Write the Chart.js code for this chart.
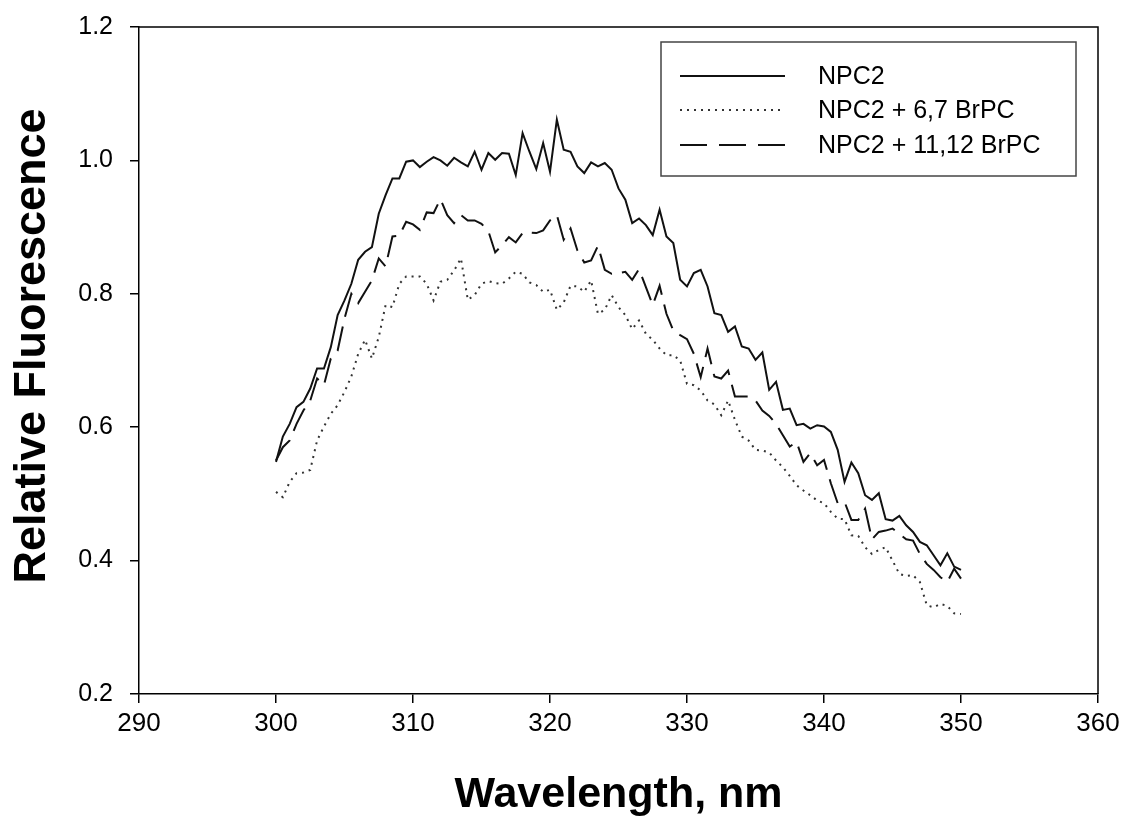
<!DOCTYPE html>
<html>
<head>
<meta charset="utf-8">
<script src="https://cdn.jsdelivr.net/npm/chart.js@4.4.1/dist/chart.umd.min.js"></script>
<style>
  html, body { margin: 0; padding: 0; background: #fff; }
  #wrap { width: 1122px; height: 823px; position: relative; }
</style>
</head>
<body>
<div id="wrap"><canvas id="c" width="1122" height="823"></canvas></div>
<script>
// Wavelength (nm)
const wavelengths = [
  300.0,300.5,301.0,301.5,302.0,302.5,303.0,303.5,304.0,304.5,
  305.0,305.5,306.0,306.5,307.0,307.5,308.0,308.5,309.0,309.5,
  310.0,310.5,311.0,311.5,312.0,312.5,313.0,313.5,314.0,314.5,
  315.0,315.5,316.0,316.5,317.0,317.5,318.0,318.5,319.0,319.5,
  320.0,320.5,321.0,321.5,322.0,322.5,323.0,323.5,324.0,324.5,
  325.0,325.5,326.0,326.5,327.0,327.5,328.0,328.5,329.0,329.5,
  330.0,330.5,331.0,331.5,332.0,332.5,333.0,333.5,334.0,334.5,
  335.0,335.5,336.0,336.5,337.0,337.5,338.0,338.5,339.0,339.5,
  340.0,340.5,341.0,341.5,342.0,342.5,343.0,343.5,344.0,344.5,
  345.0,345.5,346.0,346.5,347.0,347.5,348.0,348.5,349.0,349.5,
  350.0
];

// NPC2 (solid)
const npc2 = [
  0.548,0.586,0.605,0.630,0.638,0.658,0.688,0.688,0.720,0.768,
  0.790,0.815,0.851,0.863,0.870,0.920,0.948,0.973,0.973,0.998,
  1.000,0.990,0.998,1.005,1.000,0.992,1.004,0.997,0.991,1.013,
  0.986,1.011,1.001,1.011,1.010,0.978,1.041,1.013,0.987,1.026,
  0.983,1.061,1.016,1.013,0.991,0.981,0.997,0.991,0.996,0.986,
  0.958,0.941,0.906,0.913,0.903,0.888,0.926,0.886,0.876,0.821,
  0.811,0.831,0.836,0.811,0.771,0.768,0.743,0.751,0.721,0.718,
  0.701,0.712,0.656,0.668,0.626,0.628,0.603,0.605,0.598,0.603,
  0.601,0.593,0.566,0.518,0.547,0.531,0.498,0.491,0.501,0.462,
  0.460,0.467,0.453,0.443,0.428,0.423,0.408,0.393,0.411,0.391,
  0.386
];

// NPC2 + 6,7 BrPC (dotted)
const npc2Br67 = [
  0.503,0.495,0.518,0.531,0.532,0.536,0.580,0.601,0.620,0.633,
  0.653,0.676,0.710,0.731,0.703,0.735,0.783,0.780,0.815,0.826,
  0.826,0.826,0.815,0.790,0.818,0.821,0.835,0.853,0.791,0.798,
  0.815,0.819,0.816,0.815,0.823,0.833,0.830,0.817,0.813,0.803,
  0.806,0.776,0.787,0.812,0.811,0.803,0.820,0.770,0.776,0.798,
  0.780,0.768,0.747,0.760,0.740,0.731,0.718,0.708,0.708,0.700,
  0.665,0.663,0.655,0.640,0.634,0.618,0.640,0.611,0.586,0.580,
  0.566,0.565,0.562,0.550,0.540,0.527,0.513,0.505,0.498,0.490,
  0.486,0.473,0.463,0.462,0.438,0.437,0.420,0.410,0.416,0.420,
  0.400,0.380,0.377,0.378,0.368,0.333,0.330,0.335,0.332,0.321,
  0.320
];

// NPC2 + 11,12 BrPC (dashed)
const npc2Br1112 = [
  0.550,0.570,0.580,0.605,0.625,0.640,0.673,0.663,0.703,0.715,
  0.763,0.800,0.786,0.803,0.820,0.853,0.841,0.886,0.887,0.908,
  0.904,0.896,0.922,0.921,0.942,0.918,0.906,0.918,0.910,0.910,
  0.905,0.894,0.862,0.873,0.885,0.877,0.891,0.892,0.891,0.895,
  0.910,0.918,0.881,0.898,0.865,0.847,0.850,0.872,0.836,0.830,
  0.831,0.833,0.821,0.837,0.810,0.783,0.812,0.770,0.745,0.738,
  0.732,0.710,0.675,0.718,0.676,0.673,0.685,0.646,0.646,0.646,
  0.640,0.625,0.617,0.605,0.588,0.571,0.578,0.548,0.561,0.543,
  0.551,0.516,0.486,0.488,0.461,0.461,0.478,0.432,0.443,0.445,
  0.448,0.440,0.432,0.430,0.410,0.395,0.386,0.375,0.368,0.388,
  0.373
];

const xTicks = [290, 300, 310, 320, 330, 340, 350, 360];
const yTicks = [0.2, 0.4, 0.6, 0.8, 1.0, 1.2];

const seriesLabels = ['NPC2', 'NPC2 + 6,7 BrPC', 'NPC2 + 11,12 BrPC'];
const xTitle = 'Wavelength, nm';
const yTitle = 'Relative Fluorescence';

function pts(ys) { return wavelengths.map((x, i) => ({ x: x, y: ys[i] })); }

const FONT = '"Liberation Sans", Arial, sans-serif';

const frameAndLegend = {
  id: 'frameAndLegend',
  afterDatasetsDraw(chart) {
    const ctx = chart.ctx;
    const a = chart.chartArea;
    ctx.save();
    // top & right frame
    ctx.strokeStyle = '#000';
    ctx.lineWidth = 1.5;
    ctx.beginPath();
    ctx.moveTo(a.left, a.top);
    ctx.lineTo(a.right, a.top);
    ctx.lineTo(a.right, a.bottom);
    ctx.stroke();

    // y axis title (rotated)
    ctx.save();
    ctx.translate(33, 346);
    ctx.rotate(-Math.PI / 2);
    ctx.font = 'bold 45px ' + FONT;
    ctx.fillStyle = '#000';
    ctx.textAlign = 'center';
    ctx.textBaseline = 'middle';
    ctx.fillText(yTitle, 0, 0);
    ctx.restore();

    // legend box
    const bx = 661, by = 42, bw = 415, bh = 134;
    ctx.fillStyle = '#fff';
    ctx.fillRect(bx, by, bw, bh);
    ctx.strokeStyle = '#444';
    ctx.lineWidth = 1.5;
    ctx.strokeRect(bx, by, bw, bh);
    const rows = [76, 110, 145];
    const legendDash = [[], [2, 5], [27, 12]];
    ctx.font = '25px ' + FONT;
    ctx.textBaseline = 'middle';
    ctx.textAlign = 'left';
    chart.data.datasets.forEach((ds, i) => {
      ctx.save();
      ctx.strokeStyle = ds.borderColor;
      ctx.lineWidth = ds.borderWidth;
      ctx.setLineDash(legendDash[i]);
      ctx.lineCap = 'butt';
      ctx.beginPath();
      ctx.moveTo(680, rows[i]);
      ctx.lineTo(785, rows[i]);
      ctx.stroke();
      ctx.restore();
      ctx.fillStyle = '#000';
      ctx.fillText(ds.label, 818, rows[i] + 1);
    });
    ctx.restore();
  }
};

new Chart(document.getElementById('c'), {
  type: 'line',
  data: {
    datasets: [
      { label: seriesLabels[0], data: pts(npc2), borderColor: '#111', borderWidth: 2, pointRadius: 0, tension: 0, fill: false },
      { label: seriesLabels[1], data: pts(npc2Br67), borderColor: '#333', borderWidth: 2, borderDash: [2, 5], pointRadius: 0, tension: 0, fill: false },
      { label: seriesLabels[2], data: pts(npc2Br1112), borderColor: '#111', borderWidth: 2, borderDash: [25, 10], pointRadius: 0, tension: 0, fill: false }
    ]
  },
  options: {
    responsive: false,
    animation: false,
    devicePixelRatio: 1,
    layout: { padding: { top: 27, right: 24, left: 0, bottom: 0 } },
    plugins: { legend: { display: false }, tooltip: { enabled: false } },
    scales: {
      x: {
        type: 'linear', min: 290, max: 360,
        afterBuildTicks: (s) => { s.ticks = xTicks.map(v => ({ value: v })); },
        afterFit: (s) => { s.height = 129; s.paddingLeft = 0; s.paddingRight = 0; },
        grid: { drawOnChartArea: false, drawTicks: true, tickLength: 9, color: '#000', lineWidth: 1.5 },
        border: { display: true, color: '#000', width: 1.5 },
        ticks: { color: '#000', font: { family: FONT, size: 26 }, padding: 5, maxRotation: 0, autoSkip: false },
        title: { display: true, text: xTitle, color: '#000', font: { family: FONT, size: 43, weight: 'bold', lineHeight: 1 }, padding: { top: 0, bottom: 6 } }
      },
      y: {
        type: 'linear', min: 0.2, max: 1.2,
        afterBuildTicks: (s) => { s.ticks = yTicks.map(v => ({ value: v })); },
        afterFit: (s) => { s.width = 139; s.paddingTop = 0; s.paddingBottom = 0; },
        grid: { drawOnChartArea: false, drawTicks: true, tickLength: 9, color: '#000', lineWidth: 1.5 },
        border: { display: true, color: '#000', width: 1.5 },
        ticks: { color: '#000', font: { family: FONT, size: 25 }, padding: 17, autoSkip: false, callback: (v) => Number(v).toFixed(1) },
        title: { display: false }
      }
    }
  },
  plugins: [frameAndLegend]
});
</script>
</body>
</html>
